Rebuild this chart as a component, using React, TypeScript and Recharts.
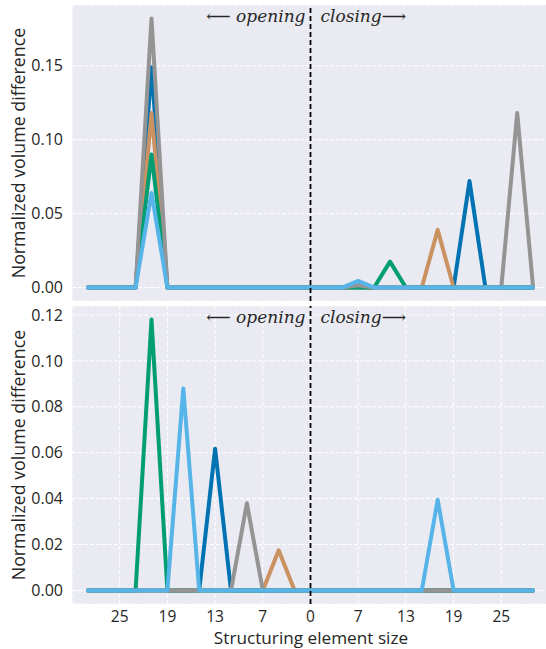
import { CartesianGrid, Line, LineChart, ReferenceLine, XAxis, YAxis } from 'recharts'

// x positions are steps of the structuring element; negative = opening, positive = closing
const steps = [-14, -13, -12, -11, -10, -9, -8, -7, -6, -5, -4, -3, -2, -1, 0, 1, 2, 3, 4, 5, 6, 7, 8, 9, 10, 11, 12, 13, 14]
const xTicks = [-12, -9, -6, -3, 0, 3, 6, 9, 12]
const xTickLabels = ['25', '19', '13', '7', '0', '7', '13', '19', '25']

// top panel
const topBlue = [0, 0, 0, 0, 0.149, 0, 0, 0, 0, 0, 0, 0, 0, 0, 0, 0, 0, 0, 0, 0, 0, 0, 0, 0, 0.072, 0, 0, 0, 0]
const topBrown = [0, 0, 0, 0, 0.118, 0, 0, 0, 0, 0, 0, 0, 0, 0, 0, 0, 0, 0, 0, 0, 0, 0, 0.039, 0, 0, 0, 0, 0, 0]
const topGreen = [0, 0, 0, 0, 0.09, 0, 0, 0, 0, 0, 0, 0, 0, 0, 0, 0, 0, 0, 0, 0.0175, 0, 0, 0, 0, 0, 0, 0, 0, 0]
const topGray = [0, 0, 0, 0, 0.182, 0, 0, 0, 0, 0, 0, 0, 0, 0, 0, 0, 0, 0.0015, 0, 0, 0, 0, 0, 0, 0, 0, 0, 0.118, 0]
const topLight = [0, 0, 0, 0, 0.064, 0, 0, 0, 0, 0, 0, 0, 0, 0, 0, 0, 0, 0.0045, 0, 0, 0, 0, 0, 0, 0, 0, 0, 0, 0]
const topYTicks = [0, 0.05, 0.1, 0.15]

// bottom panel
const botBlue = [0, 0, 0, 0, 0, 0, 0, 0, 0.0617, 0, 0, 0, 0, 0, 0, 0, 0, 0, 0, 0, 0, 0, 0, 0, 0, 0, 0, 0, 0]
const botBrown = [0, 0, 0, 0, 0, 0, 0, 0, 0, 0, 0, 0, 0.0175, 0, 0, 0, 0, 0, 0, 0, 0, 0, 0, 0, 0, 0, 0, 0, 0]
const botGreen = [0, 0, 0, 0, 0.118, 0, 0, 0, 0, 0, 0, 0, 0, 0, 0, 0, 0, 0, 0, 0, 0, 0, 0, 0, 0, 0, 0, 0, 0]
const botGray = [0, 0, 0, 0, 0, 0, 0, 0, 0, 0, 0.038, 0, 0, 0, 0, 0, 0, 0, 0, 0, 0, 0, 0, 0, 0, 0, 0, 0, 0]
const botLight = [0, 0, 0, 0, 0, 0, 0.088, 0, 0, 0, 0, 0, 0, 0, 0, 0, 0, 0, 0, 0, 0, 0, 0.0395, 0, 0, 0, 0, 0, 0]
const botYTicks = [0, 0.02, 0.04, 0.06, 0.08, 0.1, 0.12]

const SERIES = [
  { key: 'blue', color: '#0173B2' },
  { key: 'brown', color: '#CA9161' },
  { key: 'green', color: '#029E73' },
  { key: 'gray', color: '#949494' },
  { key: 'light', color: '#56B4E9' },
]

const rows = (b: number[], o: number[], g: number[], k: number[], l: number[]) =>
  steps.map((x, i) => ({ x, blue: b[i], brown: o[i], green: g[i], gray: k[i], light: l[i] }))

const topData = rows(topBlue, topBrown, topGreen, topGray, topLight)
const botData = rows(botBlue, botBrown, botGreen, botGray, botLight)

const FONT = '"Open Sans", "Noto Sans", sans-serif'
const INK = '#262626'
const W = 549

function tickLabel(v: number) {
  const i = xTicks.indexOf(v)
  return i >= 0 ? xTickLabels[i] : ''
}

function ArrowLabel({ viewBox }: any) {
  if (!viewBox) return null
  const { x, y } = viewBox
  const style = { fontFamily: '"DejaVu Serif", serif', fontStyle: 'italic', fontSize: 17, fill: INK }
  return (
    <g>
      <text x={x - 5} y={y + 17} textAnchor="end" style={style}>
        ⟵ opening
      </text>
      <text x={x + 10} y={y + 17} textAnchor="start" style={style}>
        closing⟶
      </text>
    </g>
  )
}

function YLabel({ viewBox }: any) {
  if (!viewBox) return null
  const cx = viewBox.x + 18
  const cy = viewBox.y + viewBox.height / 2
  return (
    <text
      x={cx}
      y={cy}
      transform={`rotate(-90 ${cx} ${cy})`}
      textAnchor="middle"
      dominantBaseline="central"
      style={{ fontFamily: FONT, fontSize: 17.8, fill: INK }}
    >
      Normalized volume difference
    </text>
  )
}

function XLabel({ viewBox }: any) {
  if (!viewBox) return null
  return (
    <text
      x={viewBox.x + 239}
      y={viewBox.y + 40}
      textAnchor="middle"
      style={{ fontFamily: FONT, fontSize: 17.2, fill: INK }}
    >
      Structuring element size
    </text>
  )
}

function Panel({
  data,
  height,
  margin,
  yDomain,
  yTicks,
  showX,
}: {
  data: any[]
  height: number
  margin: { top: number; right: number; bottom: number; left: number }
  yDomain: [number, number]
  yTicks: number[]
  showX: boolean
}) {
  return (
    <LineChart width={W} height={height} data={data} margin={margin}>
      <CartesianGrid fill="#EAEAF2" fillOpacity={1} stroke="#ffffff" strokeDasharray="4 2" />
      <XAxis
        dataKey="x"
        type="number"
        domain={[-15, 15]}
        ticks={xTicks}
        tickFormatter={tickLabel}
        axisLine={false}
        tickLine={false}
        tickSize={6}
        tickMargin={1}
        height={showX ? 45 : 0}
        tick={showX ? { fontFamily: FONT, fontSize: 15.5, fill: INK } : false}
        label={showX ? <XLabel /> : undefined}
      />
      <YAxis
        type="number"
        domain={yDomain}
        ticks={yTicks}
        width={72}
        tickFormatter={(v: number) => v.toFixed(2)}
        axisLine={false}
        tickLine={false}
        tickSize={6}
        tickMargin={3}
        tick={{ fontFamily: FONT, fontSize: 16, fill: INK }}
        label={<YLabel />}
      />
      {SERIES.map((s) => (
        <Line
          key={s.key}
          type="linear"
          dataKey={s.key}
          stroke={s.color}
          strokeWidth={4}
          strokeLinejoin="round"
          strokeLinecap="round"
          dot={false}
          activeDot={false}
          isAnimationActive={false}
        />
      ))}
      <ReferenceLine x={0} stroke="#000000" strokeWidth={1.8} strokeDasharray="5 3" label={<ArrowLabel />} />
    </LineChart>
  )
}

export default function App() {
  return (
    <div style={{ width: 546, height: 649, overflow: 'hidden', background: '#ffffff' }}>
      <style>{'body{margin:0}'}</style>
      <Panel
        data={topData}
        height={303}
        margin={{ top: 5, right: 0, bottom: 2, left: 0 }}
        yDomain={[-0.0091, 0.1911]}
        yTicks={topYTicks}
        showX={false}
      />
      <Panel
        data={botData}
        height={346}
        margin={{ top: 3, right: 0, bottom: 0, left: 0 }}
        yDomain={[-0.0059, 0.1239]}
        yTicks={botYTicks}
        showX={true}
      />
    </div>
  )
}
